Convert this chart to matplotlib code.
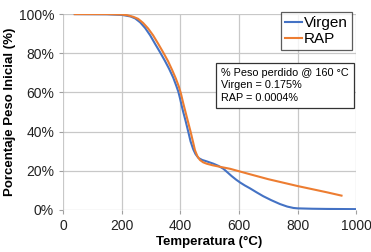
import numpy as np
import matplotlib.pyplot as plt

plt.rcParams['font.family'] = ['Liberation Sans', 'DejaVu Sans']

# Datos (temperatura en °C, peso en %)
t_virgen = [40, 150, 200, 212, 230, 246, 263, 280, 297, 314, 331, 348, 362, 376,
            386, 393, 399, 405, 410, 418, 427, 435, 444, 452, 462, 475, 490, 513,
            530, 547, 560, 575, 590, 604, 620, 638, 660, 683, 710, 740, 765, 786,
            800, 850, 900, 1000]
p_virgen = [100, 99.9, 99.6, 99.3, 98.8, 97.8, 95.8, 92.9, 89.2, 84.8, 80.5, 76, 72, 67.5,
            63.5, 60.5, 57, 53, 50, 45.5, 40, 35, 31, 28.5, 26.5, 25.5, 24.8, 23.6,
            22.5, 21, 19.3, 17.3, 15.5, 14, 12.5, 11, 9, 7, 5, 3, 1.7, 1.0,
            0.8, 0.6, 0.5, 0.4]

t_rap = [40, 150, 200, 220, 240, 256, 273, 290, 307, 324, 341, 358, 372, 385,
         395, 402, 410, 422, 435, 443, 450, 458, 467, 478, 490, 510, 536, 570,
         604, 638, 700, 800, 900, 950]
p_rap = [100, 100, 99.8, 99.4, 98.6, 97.6, 95.5, 92.7, 89.2, 85, 80.6, 76, 71.5, 67,
         63, 59.5, 54.5, 47.5, 40, 35, 30.5, 27.5, 25.5, 24.3, 23.6, 22.8, 22, 21.0,
         19.6, 18.2, 15.7, 12.2, 9.0, 7.3]

fig, ax = plt.subplots(figsize=(3.71, 2.52), dpi=100)
fig.subplots_adjust(left=0.170, right=0.960, top=0.944, bottom=0.167)

ax.plot(t_virgen, p_virgen, color='#4472c4', lw=1.5, label='Virgen', solid_joinstyle='round')
ax.plot(t_rap, p_rap, color='#ed7d31', lw=1.5, label='RAP', solid_joinstyle='round')

ax.set_xlim(0, 1000)
ax.set_ylim(0, 100)
ax.set_xticks(np.arange(0, 1001, 200))
ax.set_yticks(np.arange(0, 101, 20))
ax.set_yticklabels([f'{v}%' for v in range(0, 101, 20)])
ax.grid(True, color='#c8c8c8', lw=0.9)
for s in ax.spines.values():
    s.set_visible(False)
ax.tick_params(colors='#a0a0a0', labelcolor='#222222', labelsize=10, length=3)

ax.set_xlabel('Temperatura (°C)', fontsize=9.5, fontweight='bold', labelpad=2)
ax.set_ylabel('Porcentaje Peso Inicial (%)', fontsize=9.5, fontweight='bold', labelpad=2)

leg = ax.legend(loc='upper right', fontsize=11, handlelength=1.1, handletextpad=0.15,
                borderpad=0.25, labelspacing=0.15, fancybox=False,
                bbox_to_anchor=(0.985, 1.01), borderaxespad=0.0)
leg.get_frame().set_edgecolor('#333333')
leg.get_frame().set_linewidth(0.9)

ax.text(0.54, 0.725, '% Peso perdido @ 160 °C\nVirgen = 0.175%\nRAP = 0.0004%',
        transform=ax.transAxes, fontsize=7.8, va='top', ha='left', linespacing=1.3,
        bbox=dict(boxstyle='square,pad=0.45', fc='white', ec='#333333', lw=0.9))

plt.savefig('out.png')
